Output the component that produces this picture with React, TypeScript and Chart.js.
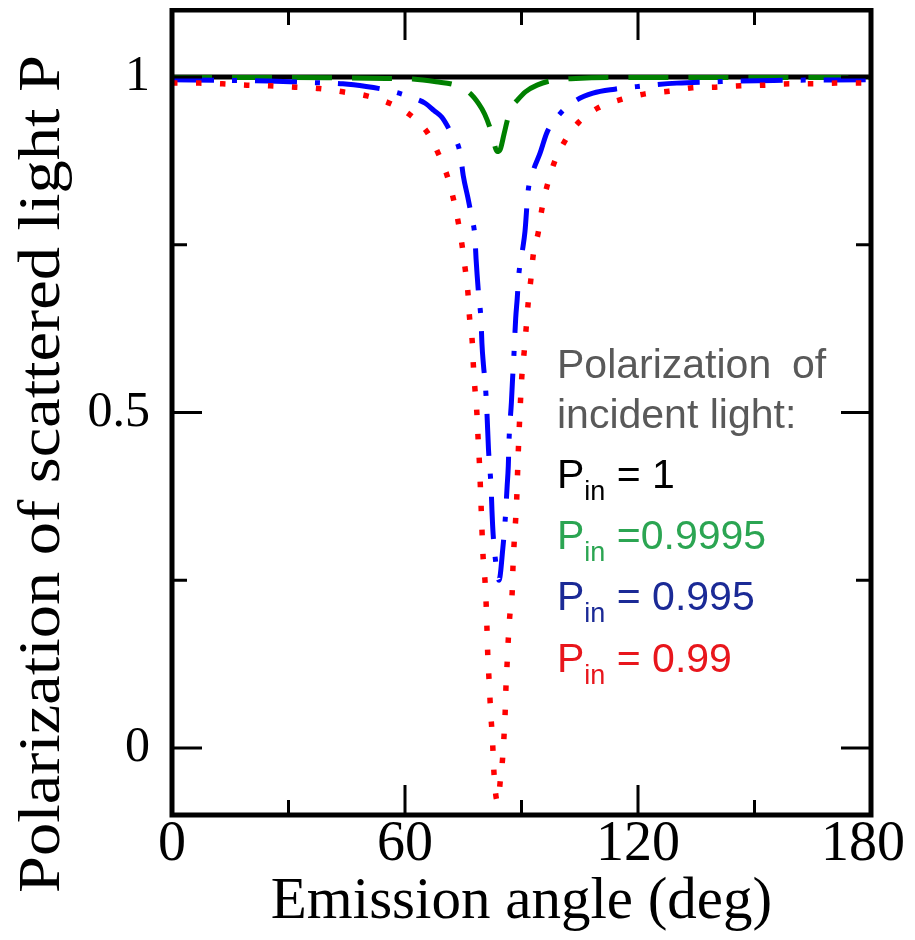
import React, { useEffect, useRef } from "react";
import { Chart, registerables } from "chart.js";

Chart.register(...registerables);

// ---- data (emission angle in degrees, polarization P) ----
const BLACK_ANGLE = [0, 180];
const BLACK_P = [1, 1];

const GREEN_ANGLE = [0, 40, 55, 62, 68, 73, 76.7, 79, 80.5, 81.9, 83, 83.7, 84.5, 85.5, 86.5, 87.5, 89, 91, 94, 98, 104, 114, 180];
const GREEN_P = [0.9995, 0.999, 0.998, 0.997, 0.993, 0.988, 0.976, 0.96, 0.945, 0.924, 0.9, 0.889, 0.892, 0.915, 0.939, 0.955, 0.966, 0.978, 0.988, 0.995, 0.998, 0.9995, 0.9995];

const BLUE_ANGLE = [0, 15, 25, 35, 44, 50, 55, 59, 62, 65.2, 67.5, 69.5, 72, 74.2, 75, 76.2, 77.2, 78, 78.3, 78.9, 79.6, 79.8, 80.2, 80.7, 81.1, 81.5, 82.2, 82.4, 82.7, 83.3, 84.2, 85.2, 85.8, 86.3, 86.6, 86.8, 87.4, 87.7, 88.0, 88.5, 88.9, 89.3, 90.2, 90.9, 91.7, 93, 94.8, 96.6, 100, 104, 108.4, 114, 120, 130, 140, 155, 180];
const BLUE_P = [0.996, 0.995, 0.994, 0.992, 0.99, 0.986, 0.981, 0.975, 0.969, 0.961, 0.95, 0.94, 0.915, 0.887, 0.853, 0.82, 0.79, 0.762, 0.729, 0.68, 0.635, 0.604, 0.571, 0.54, 0.5, 0.445, 0.385, 0.353, 0.318, 0.28, 0.25, 0.298, 0.34, 0.39, 0.42, 0.46, 0.515, 0.55, 0.58, 0.64, 0.67, 0.705, 0.74, 0.77, 0.83, 0.86, 0.887, 0.918, 0.946, 0.965, 0.976, 0.982, 0.986, 0.991, 0.993, 0.995, 0.996];

const RED_ANGLE = [0, 7, 13, 19.3, 25.2, 31.7, 37.9, 44, 50.2, 56, 61, 65.7, 68.5, 70.8, 72.4, 73.7, 74.7, 75.5, 76.2, 76.6, 77.3, 77.6, 78.0, 78.5, 78.8, 79.2, 79.6, 80.1, 80.6, 80.9, 81.1, 81.3, 81.6, 82.1, 82.5, 82.9, 83.4, 84.0, 84.5, 85.1, 85.5, 85.8, 86.0, 86.3, 86.6, 87.0, 87.6, 87.8, 88.1, 88.5, 88.8, 89.1, 89.6, 90.1, 90.7, 91.2, 91.7, 92.4, 93.0, 94.3, 95.3, 96.6, 98.4, 101.2, 104.8, 109.7, 115.9, 121.8, 128, 134, 140, 146.5, 152.7, 159, 165, 171, 180];
const RED_P = [0.991, 0.991, 0.99, 0.988, 0.987, 0.985, 0.983, 0.978, 0.972, 0.961, 0.945, 0.918, 0.887, 0.854, 0.82, 0.784, 0.749, 0.714, 0.679, 0.643, 0.607, 0.571, 0.536, 0.5, 0.464, 0.42, 0.36, 0.286, 0.249, 0.214, 0.179, 0.141, 0.106, 0.05, 0.015, -0.036, -0.071, -0.08, -0.051, -0.018, 0.018, 0.054, 0.091, 0.126, 0.162, 0.198, 0.232, 0.269, 0.305, 0.341, 0.376, 0.43, 0.5, 0.555, 0.591, 0.626, 0.662, 0.698, 0.734, 0.768, 0.805, 0.838, 0.872, 0.905, 0.933, 0.954, 0.967, 0.975, 0.979, 0.984, 0.985, 0.987, 0.988, 0.99, 0.99, 0.991, 0.991];

const X_TICKS = [0, 60, 120, 180];
const X_MINOR = [30, 90, 150];
const Y_TICKS = [0, 0.5, 1];
const Y_MINOR = [0.25, 0.75];

const X_TITLE = "Emission angle (deg)";
const Y_TITLE = "Polarization of scattered light P";
const LEGEND_HEAD = ["Polarization of", "incident light:"];
const LEGEND_VALUES = [" = 1", " =0.9995", " = 0.995", " = 0.99"];
const LEGEND_COLORS = ["#000000", "#2ba552", "#1b2a96", "#e8161c"];

const toPoints = (xs: number[], ys: number[]) => xs.map((x, i) => ({ x, y: ys[i] }));

const SERIF = "'Liberation Serif', 'Times New Roman', serif";
const SANS = "'Liberation Sans', Arial, sans-serif";

const framePlugin = {
  id: "frameTicks",
  afterDatasetsDraw(chart: any) {
    const { ctx, chartArea } = chart;
    const { left, right, top, bottom } = chartArea;
    const xs = chart.scales.x;
    const ys = chart.scales.y;
    ctx.save();
    ctx.strokeStyle = "#000";
    ctx.lineWidth = 3;
    ctx.lineCap = "butt";
    const major = 30;
    const minor = 15;
    const vTick = (v: number, len: number) => {
      const px = xs.getPixelForValue(v);
      ctx.beginPath();
      ctx.moveTo(px, bottom);
      ctx.lineTo(px, bottom - len);
      ctx.moveTo(px, top);
      ctx.lineTo(px, top + len);
      ctx.stroke();
    };
    const hTick = (v: number, len: number) => {
      const py = ys.getPixelForValue(v);
      ctx.beginPath();
      ctx.moveTo(left, py);
      ctx.lineTo(left + len, py);
      ctx.moveTo(right, py);
      ctx.lineTo(right - len, py);
      ctx.stroke();
    };
    X_TICKS.forEach((v) => vTick(v, major));
    X_MINOR.forEach((v) => vTick(v, minor));
    Y_TICKS.forEach((v) => hTick(v, major));
    Y_MINOR.forEach((v) => hTick(v, minor));
    ctx.lineWidth = 5;
    ctx.lineJoin = "miter";
    ctx.strokeRect(left, top, right - left, bottom - top);

    // x tick labels (last one kept inside the canvas, as in the original)
    ctx.fillStyle = "#000";
    ctx.font = `56px ${SERIF}`;
    ctx.textAlign = "left";
    ctx.textBaseline = "alphabetic";
    const maxRight = chart.width - 2;
    X_TICKS.forEach((v) => {
      const label = String(v);
      const tw = ctx.measureText(label).width;
      let x0 = xs.getPixelForValue(v) - tw / 2;
      if (x0 + tw > maxRight) x0 = maxRight - tw;
      ctx.fillText(label, x0, bottom + 45);
    });

    // y axis title (long, slightly condensed glyphs as in the original figure)
    ctx.save();
    ctx.font = `60px ${SERIF}`;
    ctx.textAlign = "center";
    ctx.textBaseline = "middle";
    const w = ctx.measureText(Y_TITLE).width;
    ctx.translate(35, 466);
    ctx.rotate(-Math.PI / 2);
    ctx.scale(838 / w, 1);
    ctx.fillText(Y_TITLE, 0, 0);
    ctx.restore();

    // legend text
    const lx = 549;
    ctx.textAlign = "left";
    ctx.textBaseline = "alphabetic";
    ctx.fillStyle = "#595959";
    ctx.font = `41px ${SANS}`;
    ctx.fillText("Polarization", lx, 370);
    ctx.fillText("of", 784, 370);
    ctx.fillText(LEGEND_HEAD[1], lx, 420);
    const baselines = [480, 541, 602, 664];
    LEGEND_VALUES.forEach((txt, i) => {
      const b = baselines[i];
      ctx.fillStyle = LEGEND_COLORS[i];
      ctx.font = `41px ${SANS}`;
      ctx.fillText("P", lx, b);
      let x = lx + ctx.measureText("P").width;
      ctx.font = `27px ${SANS}`;
      ctx.fillText("in", x, b + 12);
      x += ctx.measureText("in").width;
      ctx.font = `41px ${SANS}`;
      ctx.fillText(txt, x, b);
    });
    ctx.restore();
  },
};

export default function App() {
  const ref = useRef<HTMLCanvasElement | null>(null);
  useEffect(() => {
    if (!ref.current) return;
    const chart = new Chart(ref.current, {
      type: "line",
      data: {
        datasets: [
          {
            label: "P_in = 0.99",
            data: toPoints(RED_ANGLE, RED_P),
            borderColor: "#ff0000",
            borderWidth: 5.5,
            borderDash: [5.5, 18.5],
            pointRadius: 0,
            cubicInterpolationMode: "monotone",
            fill: false,
          },
          {
            label: "P_in = 0.995",
            data: toPoints(BLUE_ANGLE, BLUE_P),
            borderColor: "#0000ff",
            borderWidth: 5,
            borderDash: [42, 18, 5, 18],
            pointRadius: 0,
            cubicInterpolationMode: "monotone",
            fill: false,
          },
          {
            label: "P_in = 0.9995",
            data: toPoints(GREEN_ANGLE, GREEN_P),
            borderColor: "#008000",
            borderWidth: 5,
            borderDash: [40, 20],
            pointRadius: 0,
            cubicInterpolationMode: "monotone",
            fill: false,
          },
          {
            label: "P_in = 1",
            data: toPoints(BLACK_ANGLE, BLACK_P),
            borderColor: "#000000",
            borderWidth: 5,
            pointRadius: 0,
            fill: false,
          },
        ],
      },
      options: {
        animation: false,
        responsive: true,
        maintainAspectRatio: false,
        layout: { padding: { top: 2, right: 36, left: 0, bottom: 0 } },
        plugins: { legend: { display: false }, tooltip: { enabled: false } },
        scales: {
          x: {
            type: "linear",
            min: 0,
            max: 180,
            grid: { display: false, drawTicks: false },
            border: { display: false },
            afterBuildTicks: (s: any) => {
              s.ticks = X_TICKS.map((v) => ({ value: v }));
            },
            afterFit: (s: any) => {
              s.height = 117;
              s.paddingLeft = 0;
              s.paddingRight = 0;
            },
            ticks: { display: false },
            title: {
              display: true,
              text: X_TITLE,
              color: "#000",
              font: { family: SERIF, size: 59, lineHeight: 1 },
              padding: { top: 0, bottom: 0 },
            },
          },
          y: {
            type: "linear",
            min: -0.1,
            max: 1.1,
            grid: { display: false, drawTicks: false },
            border: { display: false },
            afterBuildTicks: (s: any) => {
              s.ticks = Y_TICKS.map((v) => ({ value: v }));
            },
            afterFit: (s: any) => {
              s.width = 164;
              s.paddingTop = 0;
              s.paddingBottom = 0;
            },
            ticks: {
              color: "#000",
              padding: 22,
              font: { family: SERIF, size: 50 },
              callback: (v: any) => String(v),
            },
            title: { display: false },
          },
        },
      },
      plugins: [framePlugin],
    });
    return () => chart.destroy();
  }, []);
  return (
    <div style={{ width: 899, height: 924, position: "relative" }}>
      <canvas ref={ref} />
    </div>
  );
}
